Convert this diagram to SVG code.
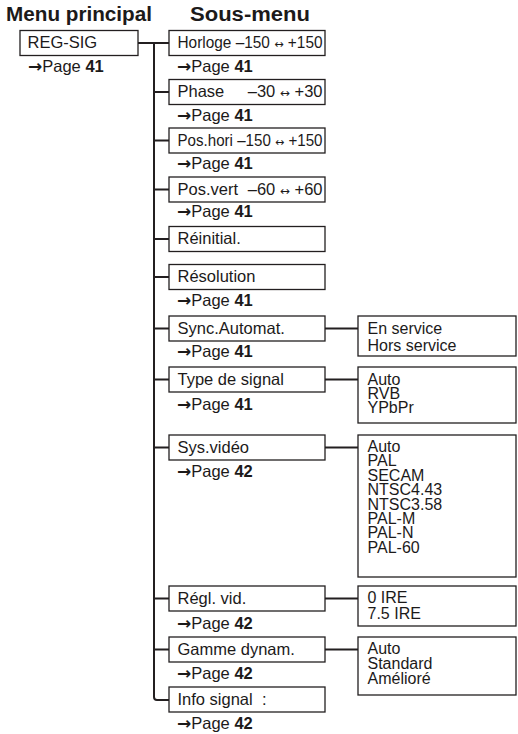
<svg xmlns="http://www.w3.org/2000/svg" width="518" height="734" viewBox="0 0 518 734">
<style>
text{font-family:"Liberation Sans",Arial,sans-serif;fill:#1c1a1a}
.h{font-weight:bold;font-size:20px}
.t{font-size:16.5px}
.s{font-size:16px}
.b{font-weight:bold}
.a{font-family:"DejaVu Sans",sans-serif;font-weight:bold;font-size:17px}
.ar{font-family:"DejaVu Sans",sans-serif;font-size:12px}
rect{fill:#fff;stroke:#231f20;stroke-width:1.3}
.c{fill:none;stroke:#231f20;stroke-width:2}
</style>
<rect x="0" y="0" width="518" height="734" style="stroke:none;fill:#fff"/>
<text class="h" x="6" y="21" textLength="146" lengthAdjust="spacingAndGlyphs">Menu principal</text>
<text class="h" x="190" y="21" textLength="120" lengthAdjust="spacingAndGlyphs">Sous-menu</text>
<g id="connectors">
<path class="c" d="M138 43H169M154 43V697Q154 700 157 700H169"/>
<path class="c" d="M154 92H169M154 140.5H169M154 189.5H169M154 239H169M154 277H169M154 328.5H169M154 379.5H169M154 447.5H169M154 598.5H169M154 649.5H169"/>
<path class="c" d="M325 328.5H358M325 379.5H358M325 447.5H358M325 598.5H358M325 649.5H358"/>
</g>
<g id="reg-sig"><rect x="20" y="30.5" width="118" height="25"/><text class="t" x="27.5" y="48">REG-SIG</text><text class="t" x="28" y="72"><tspan class="a">→</tspan>Page <tspan class="b">41</tspan></text></g>
<g id="horloge"><rect x="169" y="30.5" width="156" height="25"/><text class="t" x="177.5" y="48" textLength="145" lengthAdjust="spacingAndGlyphs">Horloge –150 <tspan class="ar">↔</tspan> +150</text><text class="t" x="177" y="72"><tspan class="a">→</tspan>Page <tspan class="b">41</tspan></text></g>
<g id="phase"><rect x="169" y="79.5" width="156" height="25"/><text class="t" x="177.5" y="97">Phase</text><text class="t" x="322.5" y="97" text-anchor="end">–30 <tspan class="ar">↔</tspan> +30</text><text class="t" x="177" y="120.5"><tspan class="a">→</tspan>Page <tspan class="b">41</tspan></text></g>
<g id="poshori"><rect x="169" y="128" width="156" height="25"/><text class="t" x="177.5" y="145.5" textLength="145" lengthAdjust="spacingAndGlyphs">Pos.hori –150 <tspan class="ar">↔</tspan> +150</text><text class="t" x="177" y="168.5"><tspan class="a">→</tspan>Page <tspan class="b">41</tspan></text></g>
<g id="posvert"><rect x="169" y="177" width="156" height="25"/><text class="t" x="177.5" y="194.5">Pos.vert</text><text class="t" x="322.5" y="194.5" text-anchor="end">–60 <tspan class="ar">↔</tspan> +60</text><text class="t" x="177" y="216.5"><tspan class="a">→</tspan>Page <tspan class="b">41</tspan></text></g>
<g id="reinitial"><rect x="169" y="226.5" width="156" height="25"/><text class="t" x="177.5" y="244">Réinitial.</text></g>
<g id="resolution"><rect x="169" y="264.5" width="156" height="25"/><text class="t" x="177.5" y="282">Résolution</text><text class="t" x="177" y="305.5"><tspan class="a">→</tspan>Page <tspan class="b">41</tspan></text></g>
<g id="sync"><rect x="169" y="316" width="156" height="25"/><text class="t" x="177.5" y="333.5">Sync.Automat.</text><text class="t" x="177" y="357"><tspan class="a">→</tspan>Page <tspan class="b">41</tspan></text></g>
<g id="type"><rect x="169" y="367" width="156" height="25"/><text class="t" x="177.5" y="384.5">Type de signal</text><text class="t" x="177" y="409.5"><tspan class="a">→</tspan>Page <tspan class="b">41</tspan></text></g>
<g id="sysvideo"><rect x="169" y="435" width="156" height="25"/><text class="t" x="177.5" y="452.5">Sys.vidéo</text><text class="t" x="177" y="477"><tspan class="a">→</tspan>Page <tspan class="b">42</tspan></text></g>
<g id="reglvid"><rect x="169" y="586" width="156" height="25"/><text class="t" x="177.5" y="603.5">Régl. vid.</text><text class="t" x="177" y="628.5"><tspan class="a">→</tspan>Page <tspan class="b">42</tspan></text></g>
<g id="gamme"><rect x="169" y="637" width="156" height="25"/><text class="t" x="177.5" y="654.5">Gamme dynam.</text><text class="t" x="177" y="679"><tspan class="a">→</tspan>Page <tspan class="b">42</tspan></text></g>
<g id="info"><rect x="169" y="687" width="156" height="25"/><text class="t" x="177.5" y="704.5" xml:space="preserve">Info signal  :</text><text class="t" x="177" y="728.5"><tspan class="a">→</tspan>Page <tspan class="b">42</tspan></text></g>
<g id="sync-opts"><rect x="358" y="316" width="158" height="40"/><text class="s" x="367.5" y="334">En service</text><text class="s" x="367.5" y="350.5">Hors service</text></g>
<g id="type-opts"><rect x="358" y="367" width="158" height="56"/><text class="s" x="367.5" y="385">Auto</text><text class="s" x="367.5" y="399">RVB</text><text class="s" x="367.5" y="413">YPbPr</text></g>
<g id="sys-opts"><rect x="358" y="435" width="158" height="142"/><text class="s" x="367.5" y="451.7">Auto</text><text class="s" x="367.5" y="466.1">PAL</text><text class="s" x="367.5" y="480.6">SECAM</text><text class="s" x="367.5" y="495">NTSC4.43</text><text class="s" x="367.5" y="509.5">NTSC3.58</text><text class="s" x="367.5" y="523.9">PAL-M</text><text class="s" x="367.5" y="538.4">PAL-N</text><text class="s" x="367.5" y="552.8">PAL-60</text></g>
<g id="regl-opts"><rect x="358" y="586" width="158" height="40"/><text class="s" x="367.5" y="603.3">0 IRE</text><text class="s" x="367.5" y="619">7.5 IRE</text></g>
<g id="gamme-opts"><rect x="358" y="637" width="158" height="58"/><text class="s" x="367.5" y="654">Auto</text><text class="s" x="367.5" y="669.3">Standard</text><text class="s" x="367.5" y="684.3">Amélioré</text></g>
</svg>
